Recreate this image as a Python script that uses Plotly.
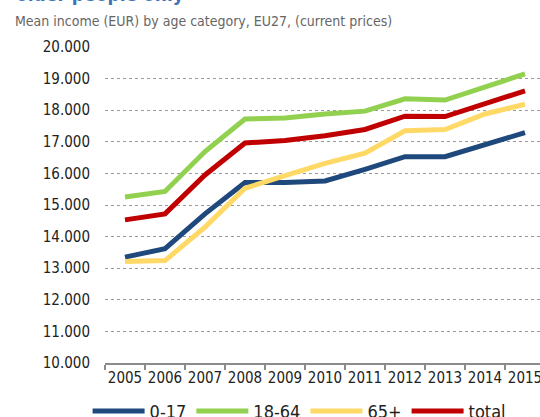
import plotly.graph_objects as go

years = ["2005", "2006", "2007", "2008", "2009", "2010", "2011", "2012", "2013", "2014", "2015"]
age_0_17 = [13350, 13620, 14720, 15710, 15710, 15760, 16130, 16530, 16530, 16900, 17290]
age_18_64 = [15250, 15430, 16690, 17720, 17750, 17880, 17970, 18360, 18320, 18740, 19150]
age_65p = [13210, 13240, 14300, 15530, 15930, 16320, 16640, 17350, 17390, 17880, 18190]
total = [14530, 14720, 15950, 16960, 17040, 17190, 17390, 17810, 17800, 18210, 18610]

series = [
    ("0-17", age_0_17, "#1F497D"),
    ("18-64", age_18_64, "#92D050"),
    ("65+", age_65p, "#FFD966"),
    ("total", total, "#C00000"),
]

FONT = "DejaVu Sans Condensed, DejaVu Sans, sans-serif"
xpos = list(range(len(years)))

fig = go.Figure()
for name, vals, col in series:
    fig.add_trace(go.Scatter(
        x=xpos, y=vals, name=name, mode="lines",
        line=dict(color=col, width=5),
    ))

fig.update_layout(
    width=540, height=417,
    margin=dict(l=105, r=0, t=47, b=54, autoexpand=False),
    paper_bgcolor="white", plot_bgcolor="white",
    separators=",.",
    font=dict(family=FONT, size=15, color="#222222"),
    showlegend=True,
    legend=dict(
        orientation="h", x=-0.04, xanchor="left", y=-0.094, yanchor="top",
        font=dict(family=FONT, size=18, color="#222222"),
        itemwidth=52, tracegroupgap=0, bgcolor="rgba(0,0,0,0)",
    ),
    xaxis=dict(
        range=[-0.5, 10.375], tickmode="array", tickvals=xpos, ticktext=years,
        ticks="", showgrid=False, zeroline=False, automargin=False,
        ticklabeloverflow="allow",
        showline=True, linecolor="#8c8c8c", linewidth=2,
        tickfont=dict(family=FONT, size=15, color="#222222"),
        minor=dict(tick0=-0.5, dtick=1, ticks="outside", ticklen=5,
                   tickcolor="#8c8c8c", tickwidth=1.5, showgrid=False),
        fixedrange=True,
    ),
    yaxis=dict(
        range=[10000, 20000], dtick=1000, tickformat=",d",
        ticks="", ticklabelstandoff=14, automargin=False,
        showgrid=True, gridcolor="#9a9a9a", griddash="dot", gridwidth=1,
        zeroline=False, showline=False,
        tickfont=dict(family=FONT, size=15, color="#222222"),
        fixedrange=True,
    ),
    annotations=[
        dict(text="older people only", xref="paper", yref="paper",
             x=-0.209, xanchor="left", y=1.127, yanchor="bottom",
             showarrow=False,
             font=dict(family=FONT, size=19, color="#3A73B8", weight="bold")),
        dict(text="Mean income (EUR) by age category, EU27, (current prices)",
             xref="paper", yref="paper", x=-0.2115, xanchor="left",
             y=1.052, yanchor="bottom", showarrow=False,
             font=dict(family=FONT, size=14, color="#666666")),
    ],
)

fig.write_html(
    "out.html",
    config={"displayModeBar": False, "staticPlot": True},
    post_script="document.body.style.margin='0';document.body.style.overflow='hidden';",
)
